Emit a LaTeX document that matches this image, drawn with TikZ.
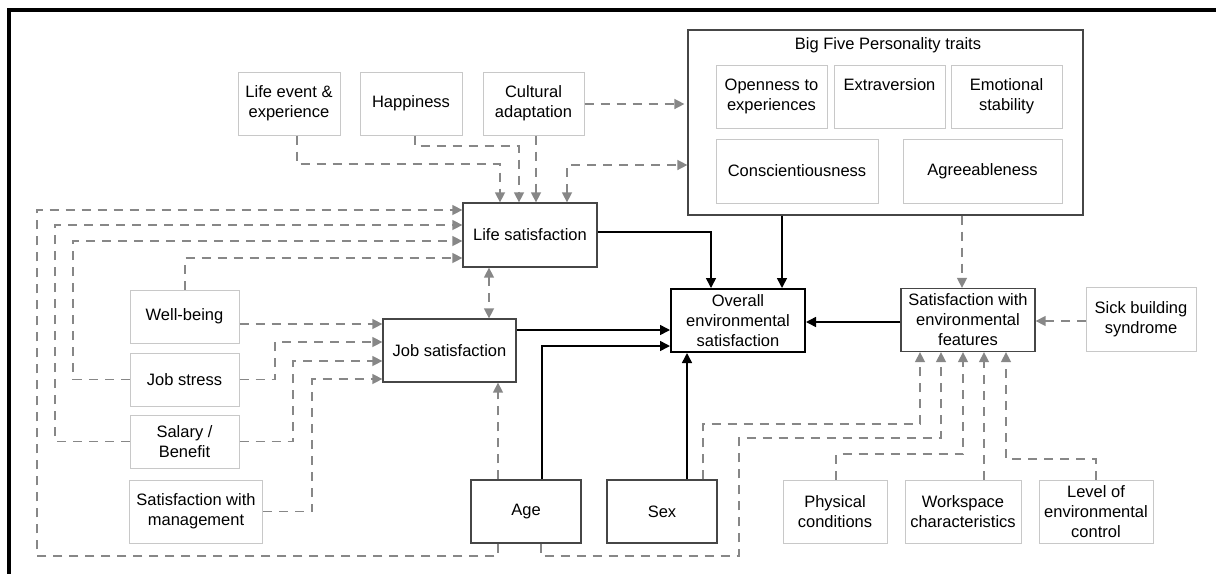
\documentclass[tikz,border=0pt]{standalone}
\usepackage{fontspec}
\setmainfont{Liberation Sans}
\usetikzlibrary{arrows.meta}
\definecolor{gline}{RGB}{135,135,135}
\definecolor{lborder}{RGB}{200,200,200}
\definecolor{dborder}{RGB}{70,70,70}
\tikzset{
  every node/.style={font=\fontsize{16.5}{20}\selectfont, align=center, inner sep=0pt},
  lbox/.style={draw=lborder, line width=1pt},
  dbox/.style={draw=dborder, line width=1.3pt},
  obox/.style={draw=black, line width=2pt},
  gd/.style={draw=gline, line width=1.5pt, dash pattern=on 9pt off 7pt, -{Triangle[length=10pt,width=10pt]}, gline},
  gdd/.style={draw=gline, line width=1.5pt, dash pattern=on 9pt off 7pt, {Triangle[length=10pt,width=10pt]}-{Triangle[length=10pt,width=10pt]}, gline},
  blk/.style={draw=black, line width=1.5pt, -{Triangle[length=10pt,width=10pt]}},
}
\begin{document}
\begin{tikzpicture}[x=1pt,y=-1pt]
\useasboundingbox (0,0) rectangle (1216,574);
% frame
\fill[black] (7,8) rectangle (1216,12);
\fill[black] (7,8) rectangle (11,574);

% top boxes
\node[lbox, minimum width=102pt, minimum height=63pt] (le) at (289,103.5) {Life event \&\\experience};
\node[lbox, minimum width=102pt, minimum height=63pt] (hp) at (411,103.5) {Happiness};
\node[lbox, minimum width=101pt, minimum height=63pt] (ca) at (533.5,103.5) {Cultural\\adaptation};

% Big five
\node[draw=dborder, line width=1.2pt, minimum width=395pt, minimum height=185pt] (bf) at (885.5,122.5) {};
\node (bft) at (888,45) {Big Five Personality traits};
\node[lbox, minimum width=111pt, minimum height=63pt] (op) at (771.5,96.5) {Openness to\\experiences};
\node[lbox, minimum width=111pt, minimum height=63pt] (ex) at (889.5,96.5) {Extraversion\\\phantom{Ag}};
\node[lbox, minimum width=111pt, minimum height=63pt] (em) at (1006.5,96.5) {Emotional\\stability};
\node[lbox, minimum width=162pt, minimum height=64pt] (co) at (797,171) {Conscientiousness};
\node[lbox, minimum width=159pt, minimum height=64pt] (ag) at (982.5,171) {Agreeableness};

% central boxes
\node[dbox, minimum width=134pt, minimum height=64pt] (ls) at (530,235) {Life satisfaction};
\node[obox, minimum width=134pt, minimum height=63pt] (ov) at (738,320.5) {Overall\\environmental\\satisfaction};
\node[dbox, minimum width=134pt, minimum height=63pt] (se) at (968,320) {Satisfaction with\\environmental\\features};
\node[lbox, minimum width=110pt, minimum height=64pt] (sb) at (1141,319) {Sick building\\syndrome};
\node[dbox, minimum width=133pt, minimum height=63pt] (jsat) at (449.5,350.5) {Job satisfaction};

% left boxes
\node[lbox, minimum width=109pt, minimum height=53pt] (wb) at (184.5,316.5) {Well-being};
\node[lbox, minimum width=109pt, minimum height=53pt] (js) at (184.5,379.5) {Job stress};
\node[lbox, minimum width=109pt, minimum height=53pt] (sal) at (184.5,441.5) {Salary /\\Benefit};
\node[lbox, minimum width=133pt, minimum height=63pt] (mg) at (196,511.5) {Satisfaction with\\management};

% bottom boxes
\node[dbox, minimum width=110pt, minimum height=63pt] (age) at (526,511.5) {Age};
\node[dbox, minimum width=110pt, minimum height=63pt] (sex) at (662,511.5) {Sex};
\node[lbox, minimum width=104pt, minimum height=63pt] (ph) at (835,511.5) {Physical\\conditions};
\node[lbox, minimum width=116pt, minimum height=63pt] (ws) at (963,511.5) {Workspace\\characteristics};
\node[lbox, minimum width=114pt, minimum height=63pt] (lv) at (1096,511.5) {Level of\\environmental\\control};

% connectors into Life satisfaction (top)
\draw[gd] (297,0 |- le.south) -- (297,164) -- (500,164) -- (500,0 |- ls.north);
\draw[gd] (415,0 |- hp.south) -- (415,146) -- (519,146) -- (519,0 |- ls.north);
\draw[gd] (536,0 |- ca.south) -- (536,0 |- ls.north);
\draw[gdd] (567,0 |- ls.north) -- (567,165) -- (bf.west |- 0,165);
\draw[gd] (ca.east |- 0,104) -- ([xshift=-3pt]bf.west |- 0,104);

% left loops into Life satisfaction
\draw[gd] (498,0 |- age.south) -- (498,556) -- (37,556) -- (37,210) -- (ls.west |- 0,210);
\draw[gd] (sal.west) -- (55,0 |- sal.west) -- (55,225) -- (ls.west |- 0,225);
\draw[gd] (js.west) -- (73,0 |- js.west) -- (73,241) -- (ls.west |- 0,241);
\draw[gd] (185,0 |- wb.north) -- (185,258) -- (ls.west |- 0,258);

% into Job satisfaction
\draw[gd] (wb.east |- 0,324) -- (jsat.west |- 0,324);
\draw[gd] (js.east) -- (275,0 |- js.east) -- (275,342) -- (jsat.west |- 0,342);
\draw[gd] (sal.east) -- (293,0 |- sal.east) -- (293,361) -- (jsat.west |- 0,361);
\draw[gd] (mg.east) -- (312,0 |- mg.east) -- (312,379) -- (jsat.west |- 0,379);
\draw[gdd] (489,0 |- ls.south) -- (489,0 |- jsat.north);
\draw[gd] (498,0 |- age.north) -- (498,0 |- jsat.south);

% into Overall
\draw[blk] (jsat.east |- 0,330) -- (ov.west |- 0,330);
\draw[blk] (542,0 |- age.north) -- (542,346) -- (ov.west |- 0,346);
\draw[blk] (687,0 |- sex.north) -- (687,0 |- ov.south);
\draw[blk] (ls.east |- 0,232) -- (711,232) -- (711,0 |- ov.north);
\draw[blk] (782,0 |- bf.south) -- (782,0 |- ov.north);
\draw[blk] (se.west |- 0,322) -- (ov.east |- 0,322);

% into Satisfaction with environmental features
\draw[gd] (962,0 |- bf.south) -- (962,0 |- se.north);
\draw[gd] (sb.west |- 0,321) -- (se.east |- 0,321);
\draw[gd] (703,0 |- sex.north) -- (703,424) -- (920,424) -- (920,0 |- se.south);
\draw[gd] (541,0 |- age.south) -- (541,556) -- (739,556) -- (739,438) -- (941,438) -- (941,0 |- se.south);
\draw[gd] (836,0 |- ph.north) -- (836,454) -- (963,454) -- (963,0 |- se.south);
\draw[gd] (984,0 |- ws.north) -- (984,0 |- se.south);
\draw[gd] (1096,0 |- lv.north) -- (1096,459) -- (1006,459) -- (1006,0 |- se.south);
\end{tikzpicture}
\end{document}
